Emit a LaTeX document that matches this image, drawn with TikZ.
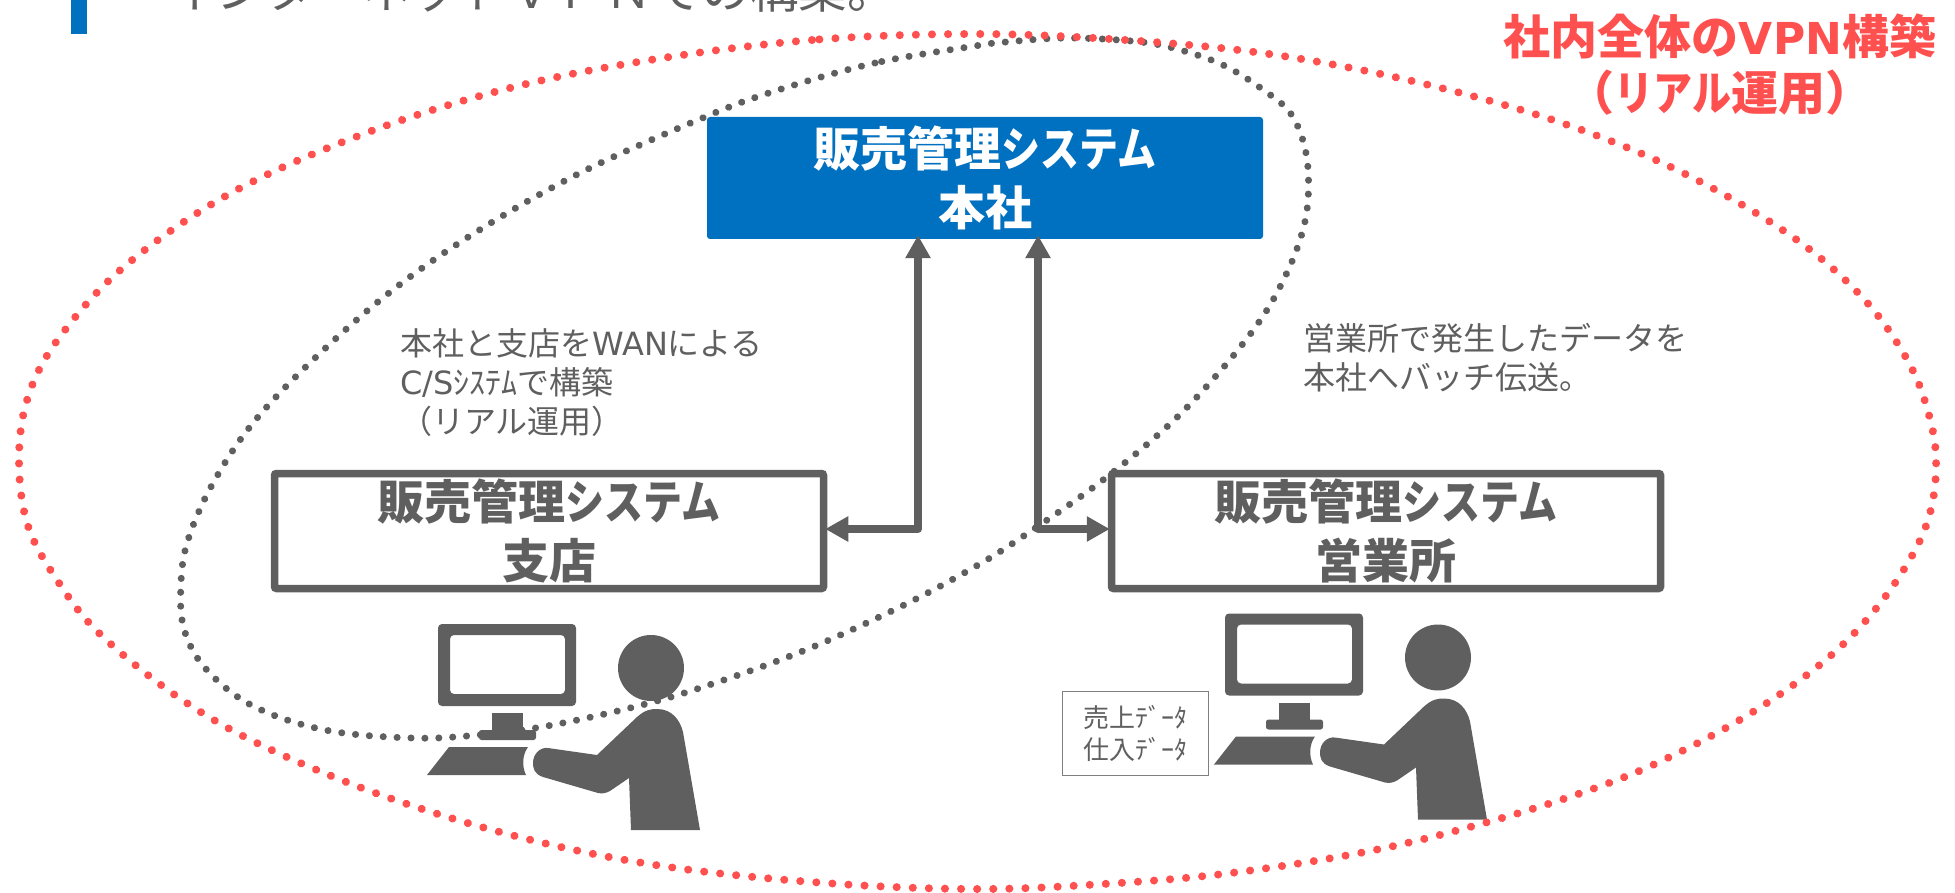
\documentclass[tikz,border=0pt]{standalone}
\usepackage{fontspec}
\setmainfont{Noto Sans CJK JP}
\newfontfamily\latinfont{DejaVu Sans}
\newfontfamily\narrowkana[FakeStretch=0.83]{Noto Sans CJK JP}
\newcommand{\nk}[1]{{\narrowkana\bfseries #1}}
\usetikzlibrary{arrows.meta}
\definecolor{ink}{HTML}{5F5F5F}
\definecolor{corp}{HTML}{0070C0}
\definecolor{vpnred}{HTML}{FF5050}
\newcommand{\pcicon}[2]{%
  \begin{scope}[shift={(#1,#2)}]
    \fill[ink,rounded corners=4pt,even odd rule] (438,624) rectangle (576,706) (450,635) rectangle (565,694);
    \fill[ink] (492,713) rectangle (523,732);
    \fill[ink,rounded corners=2.5pt] (479,730) rectangle (536,740);
    \fill[ink] (449,747) -- (528,747) .. controls (522,755) and (522,767) .. (526,775) -- (427,775) -- cycle;
    \fill[ink] (651,668) circle[radius=33];
    \fill[ink] (548,748) -- (597,755) -- (637,717) .. controls (645,710) and (650,709) .. (657,709)
      .. controls (672,709) and (680,720) .. (683,732) -- (700,830) -- (631,830) -- (629,778) -- (610,791)
      .. controls (606,793) and (603,794) .. (598,793) -- (543,777)
      .. controls (534,774) and (533,768) .. (533,763) .. controls (533,754) and (540,747) .. (548,748) -- cycle;
  \end{scope}}
\tikzset{
  sysbox/.style={draw=ink,line width=7.5pt,rounded corners=2pt,fill=none,text=ink,font=\bfseries\fontsize{47}{59}\selectfont,align=center,inner sep=0pt,minimum height=115pt,minimum width=549pt},
  headbox/.style={fill=corp,rounded corners=3pt,text=white,font=\bfseries\fontsize{47}{59}\selectfont,align=center,inner sep=0pt,minimum width=556pt,minimum height=122pt},
  note/.style={text=ink,font=\fontsize{32}{39}\selectfont,align=left,inner sep=0pt,anchor=north west},
  link/.style={draw=ink,line width=8pt,line join=round,shorten >=-4pt,shorten <=-2pt,{Triangle[length=23pt,width=24pt]}-{Triangle[length=23pt,width=24pt]}},
  redloop/.style={draw=vpnred,line width=8pt,line cap=round,dash pattern=on 0.1pt off 16pt},
  darkloop/.style={draw=ink,line width=7pt,line cap=round,dash pattern=on 0.1pt off 13.8pt},
}
\begin{document}
\begin{tikzpicture}[x=1pt,y=-1pt]
\useasboundingbox (0,0) rectangle (1955,893);
\fill[corp] (71,0) rectangle (87,34);
\node[anchor=base west,inner sep=0pt,text=ink,font=\fontsize{48.5}{48.5}\selectfont] (title) at (168,9) {インターネットＶＰＮでの構築。};
% dark loop
\draw[darkloop] plot[smooth cycle,tension=0.6] coordinates {
(975,46)(875,63)(775,91)(705,117)(584,171)(481,229)(394,289)(316,357)(253,423)(212,485)(188,540)(181,583)(184,629)(206,669)(253,706)(325,730)(412,738)(478,735)(547,726)(634,707)(706,686)(803,651)(900,607)(978,565)(1031,531)(1103,480)(1171,423)(1222,369)(1259,322)(1282,283)(1300,240)(1308,200)(1306,153)(1291,114)(1262,89)(1225,66)(1184,51)(1141,42)(1069,38)(1006,42)};
% boxes
\node[headbox] (head) at (985,178) {販売管理\nk{システム}\\本社};
\node[sysbox] (branch) at (549,531) {販売管理\nk{システム}\\支店};
\node[sysbox] (office) at (1386,531) {販売管理\nk{システム}\\営業所};
\coordinate (c1) at (918,529);
\coordinate (c2) at (1038,529);
\draw[link] (branch.east |- c1) -| (head.south -| c1);
\draw[link] (office.west |- c2) -| (head.south -| c2);
% notes
\node[note] (n1) at (400,328) {本社と支店を{\latinfont WAN}による\\{\latinfont C/S}ｼｽﾃﾑで構築\\（リアル運用）};
\node[note] (n2) at (1303,323) {営業所で発生したデータを\\本社へバッチ伝送。};
\node[draw=ink!80,line width=1pt,text=ink,font=\fontsize{26}{32}\selectfont,align=center,inner sep=0pt,minimum width=146pt,minimum height=84pt] (data) at (1135,733) {売上ﾃﾞｰﾀ\\仕入ﾃﾞｰﾀ};
\pcicon{0}{0}
\pcicon{787}{-10.5}
% red loop
\draw[redloop] plot[smooth cycle,tension=0.6] coordinates {
(975,34)(812,40)(650,60)(506,89)(366,133)(231,193)(125,266)(59,338)(28,397)(19,460)(28,526)(59,583)(100,634)(175,695)(259,744)(381,795)(519,837)(662,866)(825,883)(975,889)(1103,884)(1231,873)(1375,850)(1502,818)(1609,783)(1684,750)(1756,710)(1822,663)(1869,617)(1906,566)(1928,520)(1936,471)(1931,423)(1909,363)(1862,297)(1787,233)(1675,169)(1553,120)(1412,81)(1269,54)(1125,40)};
\node[text=vpnred,font=\bfseries\fontsize{47}{56}\selectfont,align=center,inner sep=0pt] (vpn) at (1720,65) {社内全体の{\latinfont\bfseries\fontsize{44}{56}\selectfont VPN}構築\\（\nk{リアル}運用）};
\end{tikzpicture}
\end{document}
